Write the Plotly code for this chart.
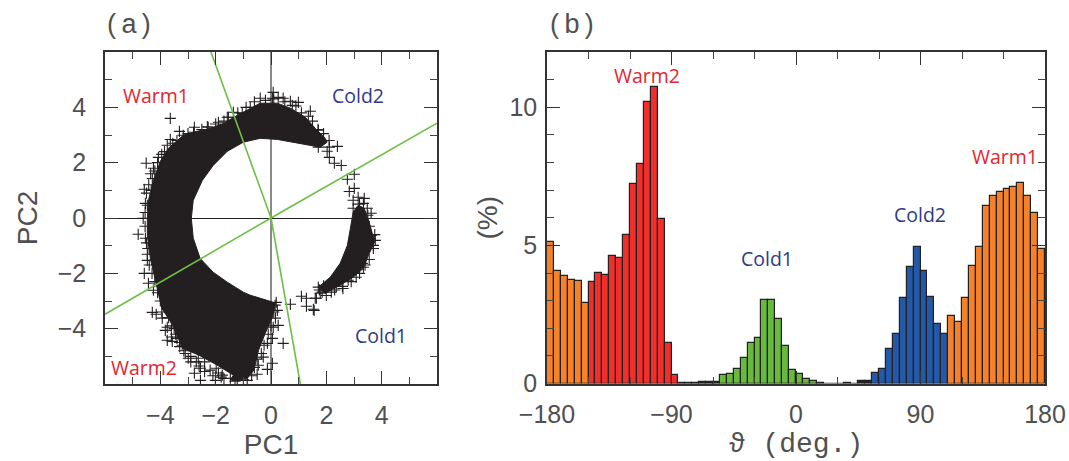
import plotly.graph_objects as go

W, H = 1069, 461

# ---------- panel (a): PC1 / PC2 ----------
warm_pc1 = [2.03,1.96,1.60,1.24,0.70,0.23,-0.39,-0.82,-1.22,-1.72,-2.19,-2.66,-3.17,-3.71,-4.00,-4.25,-4.43,-4.47,-4.47,-4.36,-4.15,-3.95,-3.55,-3.20,-2.60,-1.94,-1.36,-1.47,-0.86,-0.62,-0.45,-0.21,0.05,0.16,-0.03,-0.75,-1.00,-1.58,-2.09,-2.56,-2.81,-2.88,-2.81,-2.48,-2.09,-1.58,-1.00,-0.39,0.23,0.81,1.42,1.78,2.03]
warm_pc2 = [2.74,2.88,3.24,3.64,3.97,4.15,4.15,3.93,3.71,3.42,3.24,3.14,2.99,2.52,2.05,1.36,0.64,-0.05,-0.63,-1.46,-2.43,-3.26,-3.88,-4.71,-4.96,-5.32,-5.68,-5.86,-5.80,-5.50,-4.78,-4.17,-3.59,-3.08,-3.01,-2.79,-2.68,-2.32,-1.96,-1.46,-0.73,-0.01,0.64,1.36,1.90,2.41,2.74,2.88,2.84,2.74,2.63,2.56,2.74]
cold_pc1 = [3.15,3.37,3.55,3.66,3.77,3.52,3.34,2.97,2.50,1.96,1.71,2.14,2.50,2.76,2.87,2.97,3.15]
cold_pc2 = [0.46,0.35,-0.16,-0.55,-0.81,-1.35,-1.82,-2.14,-2.43,-2.72,-2.50,-2.14,-1.64,-0.99,-0.37,0.21,0.46]
outlier_pc1 = [-3.64,-2.77,-3.31,-4.51,-4.07,-4.25,-4.58,-3.64,-3.75,-3.17,-4.29,-4.33,-4.54,-4.47,-1.90,-2.27,-1.54,-1.36,-4.62,-1.58,-1.04,-0.75,-0.39,0.08,0.05,0.26,0.44,0.70,0.99,0.77,1.42,1.35,1.71,2.40,2.11,2.03,2.11,2.29,2.54,1.71,3.01,2.76,2.83,3.01,2.97,3.15,3.37,3.34,3.48,3.62,2.97,3.77,3.62,3.70,3.30,3.34,3.08,2.79,2.58,2.36,2.18,1.71,1.78,1.85,1.60,1.28,1.10,1.28,1.53,0.70,0.44,1.64,1.56,0.05,-0.13,-0.28,-0.50,-0.46,0.05,0.08,0.26,0.16,0.23,0.19,-0.13,-4.80,-4.58,-4.54,-4.47,-4.47,-4.43,-4.25,-4.29,-4.15,-3.93,-3.82,-3.75,-3.57,-3.75,-3.21,-3.31,-3.21,-2.99,-2.63,-2.55,-2.77,-2.55,-1.98,-2.01,-1.76,-1.47,-1.00,-1.22,-0.86]
outlier_pc2 = [3.60,3.28,3.13,1.98,2.19,1.80,1.04,2.84,2.63,2.99,1.43,1.00,0.53,0.46,3.46,3.28,3.64,3.82,-0.01,3.64,3.78,4.00,4.33,4.54,4.33,4.36,4.33,4.22,4.18,4.07,3.86,3.68,3.17,2.59,2.56,2.41,2.19,1.98,1.90,2.56,1.58,1.40,0.96,1.07,0.64,0.75,0.71,0.53,0.35,0.17,0.35,-0.81,-0.63,-0.99,-1.64,-1.78,-2.14,-2.25,-2.47,-2.47,-2.68,-2.50,-2.72,-2.68,-2.90,-2.90,-2.83,-3.19,-3.30,-3.12,-4.53,-2.90,-3.34,-5.25,-5.47,-5.03,-5.65,-5.32,-4.35,-3.95,-3.88,-3.62,-3.34,-3.05,-4.53,-0.59,-2.00,-0.73,-1.31,-1.53,-2.36,-2.61,-3.41,-3.48,-3.62,-4.06,-4.42,-4.46,-3.95,-4.31,-4.02,-4.60,-5.07,-5.07,-5.43,-5.61,-5.87,-5.43,-5.87,-5.68,-5.79,-5.61,-5.87,-5.87]
rim_pc1 = [-4.55,-4.50,-4.42,-4.35,-4.20,-4.10,-3.95,-3.85,-3.55,-3.40,-3.00,-2.80,-2.50,-2.30,-2.00,-1.70,-1.20,-0.90,-0.60,-0.20,0.10,0.50,0.90,1.10,1.50,1.70,1.90,2.10,-4.55,-4.50,-4.45,-4.40,-4.30,-4.20,-4.10,-4.00,-3.95,-3.70,-3.60,-3.45,-3.30,-3.15,-2.90,-2.70,-2.40,-2.20,-1.90,-1.70,-1.30,-1.00,-0.70,-0.60,-0.50,-0.35,-0.25,-0.10,0.00,0.10,0.15,3.20,3.50,3.55,3.75,3.70,3.55,3.40,3.20,2.90,2.60,2.30,2.00,1.75,1.90,-3.60,-3.50,-3.40,-3.30,-3.10,-2.90,-2.60,-2.40,-2.10,-1.80]
rim_pc2 = [0.20,0.90,1.20,1.60,1.70,2.00,2.30,2.40,2.70,2.80,3.05,3.10,3.20,3.30,3.40,3.50,3.80,4.00,4.20,4.25,4.30,4.20,4.05,3.80,3.50,3.20,3.05,2.80,-0.30,-0.90,-1.10,-1.70,-2.00,-2.30,-2.70,-3.00,-3.40,-3.60,-3.90,-4.20,-4.50,-4.80,-5.00,-5.20,-5.20,-5.50,-5.60,-5.80,-5.90,-5.85,-5.70,-5.40,-5.10,-4.90,-4.60,-4.20,-3.90,-3.40,-3.15,0.50,0.10,-0.30,-0.60,-1.10,-1.50,-1.70,-2.00,-2.30,-2.55,-2.60,-2.80,-2.60,-2.45,-4.30,-4.00,-4.35,-4.65,-4.90,-5.20,-5.35,-5.55,-5.70,-5.75]
divider1_pc1 = [-6, 0, 6]
divider1_pc2 = [-3.48, 0, 3.43]
divider2_pc1 = [-2.17, 0, 1.06]
divider2_pc2 = [6, 0, -6]

# ---------- panel (b): histogram of theta, 5 degree bins ----------
orange_low_pct = [5.13,4.08,3.90,3.74,3.70,2.92]
red_pct = [3.68,3.99,3.91,4.63,4.53,5.37,7.23,7.93,10.20,10.72,5.95,1.45,0.30]
gap1_pct = [0.02,0.01,0.02,0.06,0.06,0.06]
green_pct = [0.30,0.36,0.54,0.94,1.45,1.63,3.02,3.02,2.32,1.35,0.48,0.33,0.17,0.08]
gap2_pct = [0.02,0.0,0.0,0.0,0.02,0.0,0.08,0.08]
blue_pct = [0.39,0.53,1.26,1.78,3.10,4.20,4.95,4.08,3.14,2.16,1.80]
orange_high_pct = [2.44,2.23,3.10,4.27,4.95,6.44,6.79,6.94,7.03,7.13,7.27,6.80,6.16,4.88]

ORANGE, RED, GREEN, BLUE = "#f6812b", "#f02e2a", "#68ba3f", "#2458a8"
segments = [(orange_low_pct, ORANGE), (red_pct, RED), (gap1_pct, "#222222"), (green_pct, GREEN),
            (gap2_pct, "#222222"), (blue_pct, BLUE), (orange_high_pct, ORANGE)]
pct, colors = [], []
for vals, c in segments:
    pct += vals
    colors += [c] * len(vals)
theta = [-177.5 + 5 * i for i in range(len(pct))]

INK = "#231f20"
TXT = "#505050"
GREENLINE = "#6cbf45"
FONT = "Liberation Sans"

fig = go.Figure()
fig.add_trace(go.Scatter(x=warm_pc1, y=warm_pc2, mode="lines", fill="toself", fillcolor=INK,
                         line=dict(color=INK, width=1), xaxis="x", yaxis="y", name="Warm arc"))
fig.add_trace(go.Scatter(x=cold_pc1, y=cold_pc2, mode="lines", fill="toself", fillcolor=INK,
                         line=dict(color=INK, width=1), xaxis="x", yaxis="y", name="Cold arc"))
fig.add_trace(go.Scatter(x=outlier_pc1 + rim_pc1, y=outlier_pc2 + rim_pc2, mode="markers", name="samples",
                         marker=dict(symbol="cross-thin", size=8, line=dict(color=INK, width=1.1)),
                         xaxis="x", yaxis="y"))
for xs, ys in [(divider1_pc1, divider1_pc2), (divider2_pc1, divider2_pc2)]:
    fig.add_trace(go.Scatter(x=xs, y=ys, mode="lines", line=dict(color=GREENLINE, width=1.6),
                             xaxis="x", yaxis="y", name="boundary"))
fig.add_trace(go.Bar(x=theta, y=pct, width=5, marker=dict(color=colors, line=dict(color="#222222", width=1.2)),
                     xaxis="x2", yaxis="y2", name="theta"))


def ax(tickvals, rng, domain, anchor, minor_dtick, title, standoff, label_gap, title_family=FONT, **kw):
    return dict(range=rng, domain=domain, anchor=anchor, tickmode="array", tickvals=tickvals,
                automargin=False, ticklabelstandoff=label_gap,
                ticks="inside", ticklen=13, tickwidth=1.3, tickcolor="#333333", mirror="allticks",
                showline=True, linecolor="#333333", linewidth=1.5, showgrid=False,
                minor=dict(dtick=minor_dtick, ticks="inside", ticklen=7, tickwidth=1, tickcolor="#444444", showgrid=False),
                tickfont=dict(family=FONT, size=25, color=TXT),
                title=dict(text=title, standoff=standoff, font=dict(family=title_family, size=28, color=TXT)),
                **kw)


def dx(a, b):
    return [a / W, b / W]


def dy(top, bottom):
    return [(H - bottom) / H, (H - top) / H]


fig.update_layout(
    width=W, height=H, margin=dict(l=0, r=0, t=0, b=0), autosize=False,
    paper_bgcolor="white", plot_bgcolor="white", showlegend=False, bargap=0,
    xaxis=ax([-4, -2, 0, 2, 4], [-6, 6], dx(105, 437), "y", 1, "PC1", 5, 8,
             zeroline=True, zerolinecolor="#8a8a8a", zerolinewidth=2),
    yaxis=ax([-4, -2, 0, 2, 4], [-6, 6], dy(52, 384), "x", 1, "PC2", 12, 12,
             zeroline=True, zerolinecolor="#222222", zerolinewidth=1.2),
    xaxis2=ax([-180, -90, 0, 90, 180], [-180, 180], dx(547, 1045), "y2", 30, "\u03d1 (deg.)", 5, 8,
              title_family="Liberation Mono", zeroline=False),
    yaxis2=ax([0, 5, 10], [0, 12], dy(52, 383.5), "x2", 1, "(%)", 4, 3, zeroline=False),
)


def note(text, px, py, color, size=19.5, family="Open Sans"):
    fig.add_annotation(text=text, x=px / W, y=1 - py / H, xref="paper", yref="paper", showarrow=False,
                       xanchor="center", yanchor="middle",
                       font=dict(family=family, size=size, color=color))


RED_T, BLUE_T = "#e5262e", "#2f3a88"
note("Warm1", 156, 96, RED_T)
note("Cold2", 358, 96, BLUE_T)
note("Warm2", 144, 367, RED_T)
note("Cold1", 381, 335, BLUE_T)
note("Warm2", 647, 75, RED_T)
note("Cold1", 767, 258, BLUE_T)
note("Cold2", 920, 214, BLUE_T)
note("Warm1", 1005, 157, RED_T)
note("(\u2009a\u2009)", 129, 24, TXT, size=27, family=FONT)
note("(\u2009b\u2009)", 572, 24, TXT, size=27, family=FONT)

fig.write_html("out.html", config={"displayModeBar": False},
               post_script="document.body.style.margin='0';document.documentElement.style.overflow='hidden';")
